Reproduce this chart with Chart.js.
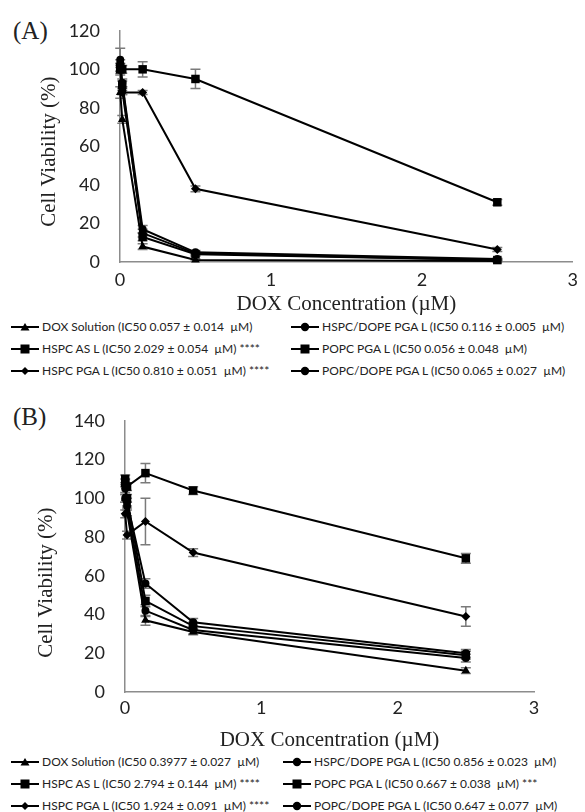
<!DOCTYPE html>
<html>
<head>
<meta charset="utf-8">
<script src="https://cdn.jsdelivr.net/npm/chart.js@4"></script>
<style>
  body { margin: 0; background: #fff; }
  #page { position: relative; width: 585px; height: 812px; overflow: hidden; }
  .box { position: absolute; left: 0; width: 585px; }
  .tag { position: absolute; left: 13px; font: 25px "Liberation Serif", serif; color: #222; }
  .legend { position: absolute; display: grid; row-gap: 5px;
            font: 12px Lato, sans-serif; color: #222; white-space: pre; }
  .legend div { display: flex; align-items: center; height: 17px; }
  .legend svg { margin-right: 2px; }
</style>
</head>
<body>
<div id="page">
  <div class="tag" style="top:17px">(A)</div>
  <div class="box" style="top:0;height:317px"><canvas id="chartA"></canvas></div>
  <div class="legend" id="legendA" style="top:318px;left:10px;grid-template-columns:280px 290px"></div>

  <div class="tag" style="top:403px">(B)</div>
  <div class="box" style="top:390px;height:363px"><canvas id="chartB"></canvas></div>
  <div class="legend" id="legendB" style="top:753px;left:10px;grid-template-columns:272px 298px"></div>
</div>
<script>
// DOX concentrations (µM)
const conc = [0.0015, 0.015, 0.15, 0.5, 2.5];

const seriesNames = ["DOX Solution", "HSPC AS L", "HSPC PGA L", "HSPC/DOPE PGA L", "POPC PGA L", "POPC/DOPE PGA L"];
const markers = ["triangle", "rect", "rectRot", "circle", "rect", "circle"];

const legendA = [
  "DOX Solution (IC50 0.057 \u00b1 0.014  \u00b5M)",
  "HSPC AS L (IC50 2.029 \u00b1 0.054  \u00b5M) ****",
  "HSPC PGA L (IC50 0.810 \u00b1 0.051  \u00b5M) ****",
  "HSPC/DOPE PGA L (IC50 0.116 \u00b1 0.005  \u00b5M)",
  "POPC PGA L (IC50 0.056 \u00b1 0.048  \u00b5M)",
  "POPC/DOPE PGA L (IC50 0.065 \u00b1 0.027  \u00b5M)"
];
const legendB = [
  "DOX Solution (IC50 0.3977 \u00b1 0.027  \u00b5M)",
  "HSPC AS L (IC50 2.794 \u00b1 0.144  \u00b5M) ****",
  "HSPC PGA L (IC50 1.924 \u00b1 0.091  \u00b5M) ****",
  "HSPC/DOPE PGA L (IC50 0.856 \u00b1 0.023  \u00b5M)",
  "POPC PGA L (IC50 0.667 \u00b1 0.038  \u00b5M) ***",
  "POPC/DOPE PGA L (IC50 0.647 \u00b1 0.077  \u00b5M)"
];

// panel A: viability (%)
const doxA      = [88, 74, 8, 1, 0.5];
const hspcAsA   = [101, 100, 100, 95, 31];
const hspcPgaA  = [100, 88, 88, 38, 6.5];
const hspcDopeA = [105, 93, 17, 5, 1.5];
const popcPgaA  = [100, 92, 13, 4, 1];
const popcDopeA = [103, 89, 15, 4.5, 1];
// panel A: error (±)
const doxAErr      = [3, 2, 1.5, 0.5, 0.5];
const hspcAsAErr   = [2, 2, 4, 5, 1.5];
const hspcPgaAErr  = [2, 1, 1, 1.5, 1];
const hspcDopeAErr = [6, 2, 2, 1, 0.5];
const popcPgaAErr  = [3, 2, 2, 1, 0.5];
const popcDopeAErr = [2, 2, 2, 1, 0.5];

// panel B: viability (%)
const doxB      = [100, 93, 37, 31, 11];
const hspcAsB   = [110, 106, 113, 104, 69];
const hspcPgaB  = [92, 81, 88, 72, 39];
const hspcDopeB = [100, 96, 42, 32, 17.5];
const popcPgaB  = [108, 100, 47, 34, 19];
const popcDopeB = [105, 98, 56, 36, 20];
// panel B: error (±)
const doxBErr      = [2, 2, 2.5, 1.5, 1.5];
const hspcAsBErr   = [2, 2, 5, 2, 2.5];
const hspcPgaBErr  = [2, 2, 12, 2, 5];
const hspcDopeBErr = [2, 2, 3, 2, 2];
const popcPgaBErr  = [2, 2, 3, 2, 2];
const popcDopeBErr = [2, 2, 2.5, 2, 2];

const xTicks = [0, 1, 2, 3];

const radii = { triangle: 5, rect: 6, rectRot: 4.5, circle: 4 };

const errorBars = {
  id: "errorBars",
  beforeDatasetsDraw(chart) {
    const { ctx, scales: { x, y } } = chart;
    ctx.save();
    ctx.strokeStyle = "#7a7a7a";
    ctx.lineWidth = 1.5;
    chart.data.datasets.forEach(ds => {
      ds.errors.forEach((e, i) => {
        const p = ds.data[i];
        const px = x.getPixelForValue(p.x);
        const t = y.getPixelForValue(p.y + e);
        const b = y.getPixelForValue(p.y - e);
        ctx.beginPath();
        ctx.moveTo(px, t); ctx.lineTo(px, b);
        ctx.moveTo(px - 5, t); ctx.lineTo(px + 5, t);
        ctx.moveTo(px - 5, b); ctx.lineTo(px + 5, b);
        ctx.stroke();
      });
    });
    ctx.restore();
  }
};

function makeChart(id, values, errors, o) {
  const datasets = values.map((vals, k) => ({
    label: seriesNames[k],
    data: vals.map((v, i) => ({ x: conc[i], y: v })),
    errors: errors[k],
    borderColor: "#000",
    backgroundColor: "#000",
    borderWidth: 2,
    pointStyle: markers[k],
    pointRadius: radii[markers[k]],
    pointBorderWidth: 0,
    tension: 0,
    clip: false
  }));

  new Chart(document.getElementById(id), {
    type: "line",
    data: { datasets },
    options: {
      responsive: true,
      maintainAspectRatio: false,
      animation: false,
      layout: { padding: { left: 0, right: o.right, top: o.top, bottom: 0 } },
      plugins: { legend: { display: false }, tooltip: { enabled: false } },
      scales: {
        x: {
          type: "linear", min: 0, max: 3,
          afterBuildTicks: s => { s.ticks = xTicks.map(v => ({ value: v })); },
          grid: { display: false, drawTicks: false },
          border: { display: true, color: "#8c8c8c", width: 1.5 },
          ticks: { padding: o.xPad, color: "#222", font: { family: "Lato", size: 18 } },
          title: { display: true, text: "DOX Concentration (\u00b5M)", color: "#222",
                   padding: 0, font: { family: "Liberation Serif", size: 21 } },
          afterFit: s => { s.height = o.xH; }
        },
        y: {
          min: 0, max: o.yMax,
          ticks: { stepSize: 20, padding: 20, color: "#222", font: { family: "Lato", size: 18 } },
          grid: { display: false, drawTicks: false },
          border: { display: true, color: "#8c8c8c", width: 1.5 },
          // trailing spaces push the rotated title down, as in the original
          title: { display: true, text: "Cell Viability (%)" + " ".repeat(o.yShift), color: "#222",
                   padding: { top: o.yTitle, bottom: 0 }, font: { family: "Liberation Serif", size: 21 } },
          afterFit: s => { s.width = o.yW; }
        }
      }
    },
    plugins: [errorBars]
  });
}

function icon(style) {
  let m;
  if (style === "triangle") m = '<polygon points="15,2 19.5,9.5 10.5,9.5" fill="#000"/>';
  else if (style === "rect") m = '<rect x="10.5" y="1.5" width="9" height="9" fill="#000"/>';
  else if (style === "rectRot") m = '<polygon points="15,2 19,6 15,10 11,6" fill="#000"/>';
  else m = '<circle cx="15" cy="6" r="4.2" fill="#000"/>';
  return '<svg width="30" height="12"><line x1="1" y1="6" x2="29" y2="6" stroke="#000" stroke-width="2"/>' + m + '</svg>';
}

function makeLegend(id, labels) {
  // two columns, filled column by column (3 rows)
  const order = [0, 3, 1, 4, 2, 5];
  document.getElementById(id).innerHTML = order
    .map(k => '<div>' + icon(markers[k]) + '<span>' + labels[k] + '</span></div>')
    .join("");
}

makeChart("chartA",
  [doxA, hspcAsA, hspcPgaA, hspcDopeA, popcPgaA, popcDopeA],
  [doxAErr, hspcAsAErr, hspcPgaAErr, hspcDopeAErr, popcPgaAErr, popcDopeAErr],
  { right: 5, top: 28, yMax: 120, yW: 120, yTitle: 37, xPad: 7, xH: 55, yShift: 2 });

makeChart("chartB",
  [doxB, hspcAsB, hspcPgaB, hspcDopeB, popcPgaB, popcDopeB],
  [doxBErr, hspcAsBErr, hspcPgaBErr, hspcDopeBErr, popcPgaBErr, popcDopeBErr],
  { right: 51, top: 23, yMax: 140, yW: 125, yTitle: 34, xPad: 5, xH: 61, yShift: 10 });

makeLegend("legendA", legendA);
makeLegend("legendB", legendB);
</script>
</body>
</html>
